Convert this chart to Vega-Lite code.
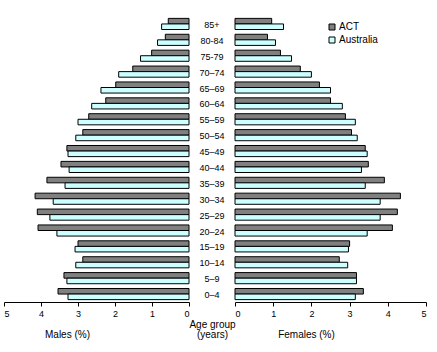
{
  "$schema": "https://vega.github.io/schema/vega-lite/v6.json",
  "padding": {"left": 3, "top": 16, "right": 5, "bottom": 5},
  "bounds": "flush",
  "spacing": 0,
  "background": "white",
  "config": {
    "view": {"stroke": null},
    "font": "Liberation Sans",
    "axis": {"labelFont": "Liberation Sans", "titleFont": "Liberation Sans", "labelColor": "black", "titleColor": "black", "domainColor": "black", "tickColor": "black", "labelFontSize": 9, "titleFontSize": 10, "titleFontWeight": "normal", "grid": false},
    "legend": {"labelFont": "Liberation Sans", "labelFontSize": 10, "labelColor": "black"}
  },
  "data": {"values": [
    {"age": "85+", "series": "ACT", "male": 0.56, "female": 0.96},
    {"age": "85+", "series": "Australia", "male": 0.74, "female": 1.27},
    {"age": "80-84", "series": "ACT", "male": 0.64, "female": 0.85},
    {"age": "80-84", "series": "Australia", "male": 0.85, "female": 1.06},
    {"age": "75-79", "series": "ACT", "male": 1.01, "female": 1.19},
    {"age": "75-79", "series": "Australia", "male": 1.31, "female": 1.48},
    {"age": "70–74", "series": "ACT", "male": 1.52, "female": 1.71},
    {"age": "70–74", "series": "Australia", "male": 1.90, "female": 2.00},
    {"age": "65–69", "series": "ACT", "male": 1.98, "female": 2.21},
    {"age": "65–69", "series": "Australia", "male": 2.38, "female": 2.50},
    {"age": "60–64", "series": "ACT", "male": 2.25, "female": 2.50},
    {"age": "60–64", "series": "Australia", "male": 2.63, "female": 2.81},
    {"age": "55–59", "series": "ACT", "male": 2.71, "female": 2.89},
    {"age": "55–59", "series": "Australia", "male": 3.00, "female": 3.15},
    {"age": "50–54", "series": "ACT", "male": 2.87, "female": 3.05},
    {"age": "50–54", "series": "Australia", "male": 3.06, "female": 3.20},
    {"age": "45–49", "series": "ACT", "male": 3.30, "female": 3.41},
    {"age": "45–49", "series": "Australia", "male": 3.27, "female": 3.46},
    {"age": "40–44", "series": "ACT", "male": 3.46, "female": 3.49},
    {"age": "40–44", "series": "Australia", "male": 3.24, "female": 3.31},
    {"age": "35–39", "series": "ACT", "male": 3.84, "female": 3.91},
    {"age": "35–39", "series": "Australia", "male": 3.35, "female": 3.41},
    {"age": "30–34", "series": "ACT", "male": 4.16, "female": 4.33},
    {"age": "30–34", "series": "Australia", "male": 3.67, "female": 3.80},
    {"age": "25–29", "series": "ACT", "male": 4.10, "female": 4.25},
    {"age": "25–29", "series": "Australia", "male": 3.76, "female": 3.80},
    {"age": "20–24", "series": "ACT", "male": 4.08, "female": 4.12},
    {"age": "20–24", "series": "Australia", "male": 3.57, "female": 3.46},
    {"age": "15–19", "series": "ACT", "male": 3.00, "female": 3.00},
    {"age": "15–19", "series": "Australia", "male": 3.08, "female": 2.97},
    {"age": "10–14", "series": "ACT", "male": 2.87, "female": 2.73},
    {"age": "10–14", "series": "Australia", "male": 3.06, "female": 2.95},
    {"age": "5–9", "series": "ACT", "male": 3.38, "female": 3.18},
    {"age": "5–9", "series": "Australia", "male": 3.30, "female": 3.18},
    {"age": "0–4", "series": "ACT", "male": 3.54, "female": 3.36},
    {"age": "0–4", "series": "Australia", "male": 3.27, "female": 3.15}
  ]},
  "resolve": {"scale": {"color": "independent", "x": "independent"}, "legend": {"color": "independent"}},
  "hconcat": [
    {
      "width": 185,
      "height": 286,
      "mark": {"type": "bar", "stroke": "black", "strokeWidth": 1},
      "encoding": {
        "y": {"field": "age", "type": "nominal", "sort": ["85+", "80-84", "75-79", "70–74", "65–69", "60–64", "55–59", "50–54", "45–49", "40–44", "35–39", "30–34", "25–29", "20–24", "15–19", "10–14", "5–9", "0–4"], "axis": null, "scale": {"paddingInner": 0.3, "paddingOuter": 0.15}},
        "yOffset": {"field": "series", "type": "nominal", "scale": {"domain": ["ACT", "Australia"]}},
        "x": {"field": "male", "type": "quantitative", "scale": {"domain": [0, 5], "reverse": true, "nice": false}, "axis": {"values": [0, 1, 2, 3, 4, 5], "tickSize": 4, "labelPadding": 3, "title": "Males (%)", "titleX": 63, "titleY": 35, "titleBaseline": "alphabetic"}},
        "color": {"field": "series", "type": "nominal", "scale": {"domain": ["ACT", "Australia"], "range": ["#808080", "#ccffff"]}, "legend": null}
      }
    },
    {
      "width": 46,
      "height": 286,
      "transform": [{"filter": "datum.series === 'ACT'"}],
      "mark": {"type": "text", "fontSize": 9, "font": "Liberation Sans", "color": "black", "align": "center", "baseline": "middle", "dy": 1},
      "encoding": {
        "y": {"field": "age", "type": "nominal", "sort": ["85+", "80-84", "75-79", "70–74", "65–69", "60–64", "55–59", "50–54", "45–49", "40–44", "35–39", "30–34", "25–29", "20–24", "15–19", "10–14", "5–9", "0–4"], "axis": null, "scale": {"paddingInner": 0.3, "paddingOuter": 0.15}},
        "x": {"datum": 0, "type": "quantitative", "scale": {"domain": [-1, 1]}, "axis": {"labels": false, "ticks": false, "domain": false, "title": ["Age group", "(years)"], "titleY": 25, "titleBaseline": "alphabetic", "titleLineHeight": 10}},
        "text": {"field": "age"}
      }
    },
    {
      "width": 191,
      "height": 286,
      "mark": {"type": "bar", "stroke": "black", "strokeWidth": 1},
      "encoding": {
        "y": {"field": "age", "type": "nominal", "sort": ["85+", "80-84", "75-79", "70–74", "65–69", "60–64", "55–59", "50–54", "45–49", "40–44", "35–39", "30–34", "25–29", "20–24", "15–19", "10–14", "5–9", "0–4"], "axis": null, "scale": {"paddingInner": 0.3, "paddingOuter": 0.15}},
        "yOffset": {"field": "series", "type": "nominal", "scale": {"domain": ["ACT", "Australia"]}},
        "x": {"field": "female", "type": "quantitative", "scale": {"domain": [0, 5], "nice": false}, "axis": {"values": [0, 1, 2, 3, 4, 5], "tickSize": 4, "labelPadding": 3, "title": "Females (%)", "titleX": 71, "titleY": 35, "titleBaseline": "alphabetic"}},
        "color": {"field": "series", "type": "nominal", "scale": {"domain": ["ACT", "Australia"], "range": ["#808080", "#ccffff"]}, "legend": {"title": null, "orient": "none", "legendX": 92, "legendY": 6, "symbolType": "square", "symbolSize": 36, "symbolStrokeColor": "black", "symbolStrokeWidth": 1, "symbolOpacity": 1, "labelOffset": 2, "rowPadding": 3, "padding": 0}}
      }
    }
  ]
}
